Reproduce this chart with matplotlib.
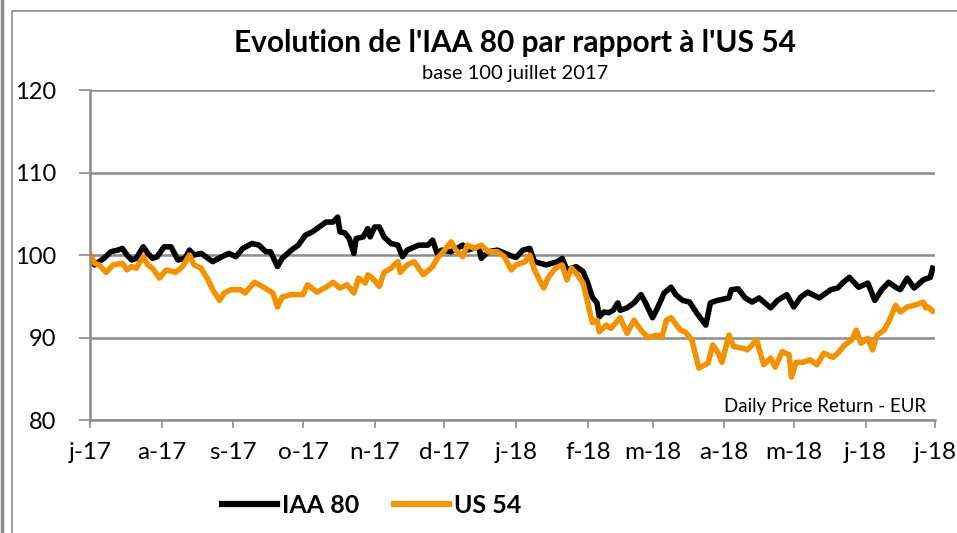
import numpy as np
import pandas as pd
import matplotlib
matplotlib.use("Agg")
import matplotlib.pyplot as plt
from matplotlib.lines import Line2D
from matplotlib.patches import Rectangle

plt.rcParams['font.family'] = ['Lato', 'DejaVu Sans']

# jours depuis le 1er juillet 2017 / valeur (base 100)
iaa_days = [0, 2, 4, 6, 9, 12, 14, 16, 18, 20, 23, 25, 27, 29, 32, 35, 38, 41, 43, 45,
            48, 51, 53, 57, 60, 63, 66, 70, 73, 76, 78, 81, 83, 87, 90, 93, 96, 99, 102, 105,
            107, 108, 110, 112, 114, 115, 118, 120, 121, 123, 125, 127, 130, 133, 135, 137, 142, 146, 148, 150,
            152, 156, 161, 163, 168, 169, 172, 176, 181, 184, 187, 190, 192, 197, 202, 204, 206, 210, 213, 215,
            217, 219, 220, 222, 224, 226, 228, 229, 232, 235, 238, 240, 243, 245, 248, 251, 253, 256, 259, 262,
            266, 268, 271, 276, 277, 280, 283, 286, 289, 294, 297, 301, 304, 307, 310, 315, 320, 323, 325, 328,
            332, 336, 339, 342, 345, 348, 350, 353, 356, 360, 363, 364]
iaa_vals = [100, 98.8, 99.2, 99.6, 100.4, 100.6, 100.8, 100, 99.4, 99.6, 101, 100.2, 99.6, 99.8, 101, 101, 99.4, 99.6, 100.6, 100,
            100.2, 99.6, 99.2, 99.8, 100.2, 99.8, 100.8, 101.4, 101.2, 100.4, 100.4, 98.6, 99.6, 100.6, 101.2, 102.4, 102.8, 103.4, 104, 104,
            104.6, 102.8, 102.7, 102, 100.2, 102, 102.2, 103.2, 102.2, 103.4, 103.4, 102.2, 101.4, 101.2, 99.8, 100.6, 101.2, 101.2, 101.8, 100.2,
            100.6, 100.4, 101.2, 100.6, 101, 99.6, 100.4, 100.6, 100, 99.7, 100.6, 100.8, 99.2, 98.8, 99.2, 99.6, 98.2, 98.6, 98, 96.6,
            94.9, 94.2, 92.5, 93.1, 93, 93.3, 94.2, 93.3, 93.6, 94.2, 95.2, 94.2, 92.4, 93.5, 95.4, 96.1, 95.2, 94.5, 94.3, 93,
            91.5, 94.2, 94.5, 94.8, 95.8, 95.9, 94.8, 94.3, 94.8, 93.6, 94.5, 95.2, 93.7, 94.9, 95.5, 94.8, 95.8, 96, 96.6, 97.3,
            96.1, 96.6, 94.5, 95.8, 96.7, 96.1, 95.8, 97.2, 96, 97, 97.3, 98.4]

us_days = [0, 2, 4, 7, 10, 14, 16, 18, 20, 23, 25, 27, 30, 33, 37, 40, 43, 45, 48, 51,
           53, 56, 58, 61, 65, 67, 71, 75, 79, 81, 83, 87, 92, 94, 98, 102, 105, 108, 111, 114,
           116, 119, 120, 122, 125, 127, 130, 133, 134, 137, 140, 144, 148, 150, 152, 156, 158, 161, 163, 166,
           169, 172, 176, 179, 182, 184, 188, 190, 192, 196, 198, 201, 204, 206, 208, 210, 213, 215, 217, 219,
           220, 223, 225, 229, 232, 235, 238, 241, 245, 247, 249, 251, 255, 257, 260, 263, 267, 269, 271, 273,
           276, 278, 282, 284, 288, 291, 294, 296, 299, 302, 303, 305, 308, 311, 314, 317, 321, 323, 326, 329,
           331, 333, 336, 338, 340, 343, 345, 348, 350, 353, 356, 360, 361, 362, 364]
us_vals = [100, 99, 98.8, 97.9, 98.8, 99, 98.2, 98.6, 98.4, 99.8, 98.8, 98.4, 97.2, 98.2, 97.9, 98.6, 100, 98.8, 98.4, 97,
           95.8, 94.5, 95.4, 95.8, 95.8, 95.4, 96.7, 96.1, 95.4, 93.7, 94.9, 95.2, 95.2, 96.4, 95.5, 96.1, 96.7, 96, 96.4, 95.4,
           97.2, 96.6, 97.6, 97.2, 96.2, 97.9, 98.4, 99.2, 97.9, 98.8, 99.2, 97.6, 98.6, 99.6, 100.2, 101.6, 100.6, 99.8, 101.2, 100.8,
           101.2, 100.4, 100.4, 99.8, 98.2, 98.8, 99.2, 100, 98.2, 96, 97.3, 98.4, 98.8, 97, 98.4, 97.8, 96.6, 94.2, 91.8, 92.1,
           90.7, 91.5, 91.1, 92.4, 90.5, 92.1, 90.9, 90, 90.3, 90, 92.1, 92.4, 90.9, 90.7, 89.7, 86.3, 86.9, 89.1, 88.3, 87,
           90.3, 88.9, 88.7, 88.5, 89.7, 86.7, 87.5, 86.4, 88.3, 87.9, 85.2, 87, 87, 87.3, 86.7, 88.1, 87.6, 88.1, 89.1, 89.7,
           90.9, 89.3, 89.9, 88.5, 90.3, 90.9, 91.9, 93.9, 93.1, 93.7, 93.9, 94.3, 93.6, 93.7, 93.2]

month_labels = ['j-17', 'a-17', 's-17', 'o-17', 'n-17', 'd-17', 'j-18',
                'f-18', 'm-18', 'a-18', 'm-18', 'j-18', 'j-18']

start = pd.Timestamp('2017-07-01')
iaa_dates = start + pd.to_timedelta(iaa_days, unit='D')
us_dates = start + pd.to_timedelta(us_days, unit='D')
month_ticks = pd.date_range('2017-07-01', '2018-07-01', freq='MS')

fig = plt.figure(figsize=(9.57, 5.33), dpi=100)
ax = fig.add_axes([0.094, 0.212, 0.883, 0.619])

grid_col = '#8c8c8c'
orange = '#f39200'
ax.plot(iaa_dates, iaa_vals, color='black', lw=4, solid_joinstyle='round', label='IAA 80')
ax.plot(us_dates, us_vals, color=orange, lw=4, solid_joinstyle='round', label='US 54')

ax.set_ylim(80, 120)
ax.set_yticks([80, 90, 100, 110, 120])
ax.set_xlim(month_ticks[0], month_ticks[-1])
ax.set_xticks(month_ticks)
ax.set_xticklabels(month_labels)
ax.yaxis.grid(True, color=grid_col, lw=1.8)
ax.set_axisbelow(True)

for s in ['top', 'right']:
    ax.spines[s].set_visible(False)
for s in ['left', 'bottom']:
    ax.spines[s].set_color(grid_col)
    ax.spines[s].set_linewidth(1.8)
ax.tick_params(axis='x', length=6, width=1.2, color=grid_col, labelsize=17.5, pad=10)
ax.tick_params(axis='y', length=8, width=1.2, color=grid_col, labelsize=17, pad=16)

ax.text(0.99, 0.015, 'Daily Price Return - EUR', transform=ax.transAxes,
        ha='right', va='bottom', fontsize=13.5)

fig.text(0.538, 0.92, "Evolution de l'IAA 80 par rapport à l'US 54",
         ha='center', va='center', fontsize=21.5, fontweight='bold')
fig.text(0.538, 0.862, 'base 100 juillet 2017', ha='center', va='center', fontsize=14.5)

handles = [Line2D([0], [0], color='black', lw=4.5),
           Line2D([0], [0], color=orange, lw=4.5)]
fig.legend(handles, ['IAA 80', 'US 54'], loc='center', bbox_to_anchor=(0.388, 0.052),
           ncol=2, frameon=False, handlelength=2.2, handletextpad=0.2, columnspacing=1.4,
           prop={'size': 18, 'weight': 'bold'})

# cadre du graphique
fig.add_artist(Rectangle((12 / 957, -0.05), 1.1, 1 - 11 / 533 + 0.05, transform=fig.transFigure,
                         fill=False, edgecolor=grid_col, lw=1.2))
fig.add_artist(Line2D([1.5 / 957, 1.5 / 957], [0, 1], transform=fig.transFigure,
                      color=grid_col, lw=2.5))

fig.savefig('out.png', dpi=100)
